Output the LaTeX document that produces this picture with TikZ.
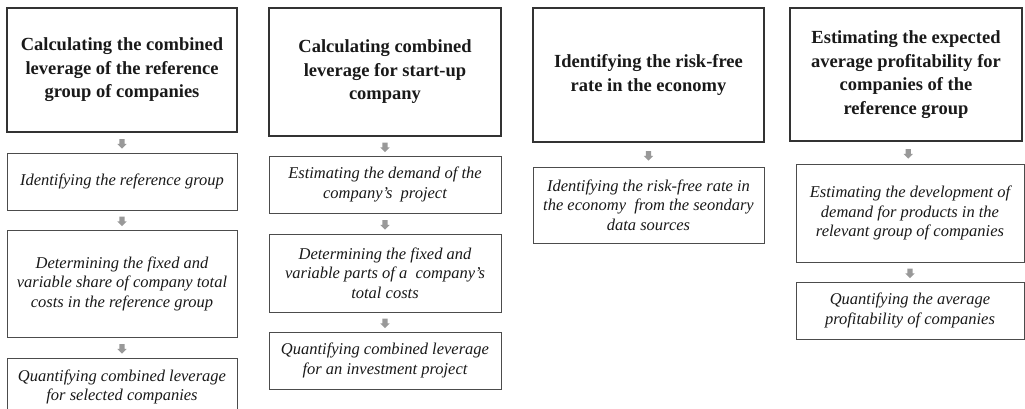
\documentclass[tikz,border=0pt]{standalone}
\usepackage{fontspec}
\setmainfont{Liberation Serif}
\usetikzlibrary{shapes.arrows}

\begin{document}
\begin{tikzpicture}[x=1pt,y=-1pt]
		\tikzstyle{head}=[rectangle,align=center,draw=black!80,line width=1.3pt,inner sep=0,text=black!90,font=\fontsize{18.5}{23.5}\selectfont\bfseries]
		\tikzstyle{task}=[rectangle,align=center,draw=black!70,line width=1pt,inner sep=0,text=black!90,font=\fontsize{16.5}{19.5}\selectfont\itshape]
		\tikzstyle{blk}=[single arrow,shape border rotate=270,fill=black!40,inner sep=2.5pt,minimum height=9.5pt,single arrow head extend=2pt,single arrow head indent=0pt]
		
		\useasboundingbox (0,0) rectangle (1025,409);
		
		\node [head,minimum width=230,minimum height=124] (h1) at (122, 70)    {Calculating the combined\\leverage of the reference\\group of companies};
		\node [task,minimum width=230,minimum height=57]  (b12) at (122, 181.5) {Identifying the reference group};
		\node [task,minimum width=230,minimum height=107] (b13) at (122, 283.5) {Determining the fixed and\\variable share of company total\\costs in the reference group};
		\node [task,minimum width=230,minimum height=58]  (b14) at (122, 387)   {Quantifying combined leverage\\for selected companies};
		
		\node [head,minimum width=232,minimum height=128] (h2) at (385, 72)    {Calculating combined\\leverage for start-up\\company};
		\node [task,minimum width=232,minimum height=57]  (b22) at (385, 184.5) {Estimating the demand of the\\company's\ \ project};
		\node [task,minimum width=232,minimum height=78]  (b23) at (385, 273)   {Determining the fixed and\\variable parts of a\ \ company's\\total costs};
		\node [task,minimum width=232,minimum height=57]  (b24) at (385, 360.5) {Quantifying combined leverage\\for an investment project};
		
		\node [head,minimum width=231,minimum height=134] (h3) at (648.5, 75) {Identifying the risk-free\\rate in the economy};
		\node [task,minimum width=231,minimum height=76]  (b32) at (648.5, 205) {Identifying the risk-free rate in\\the economy\ \ from the seondary\\data sources};
		
		\node [head,minimum width=232,minimum height=133] (h4) at (906, 74.5) {Estimating the expected\\average profitability for\\companies of the\\reference group};
		\node [task,minimum width=228,minimum height=98]  (b42) at (910, 213)   {Estimating the development of\\demand for products in the\\relevant group of companies};
		\node [task,minimum width=228,minimum height=57]  (b43) at (910, 310.5) {Quantifying the average\\profitability of companies};
		
		\path (h1)  -- node[blk]{} (b12);
		\path (b12) -- node[blk]{} (b13);
		\path (b13) -- node[blk]{} (b14);
		\path (h2)  -- node[blk]{} (b22);
		\path (b22) -- node[blk]{} (b23);
		\path (b23) -- node[blk]{} (b24);
		\path (h3)  -- node[blk]{} (b32);
		\path (h4)  -- node[blk]{} (b42);
		\path (b42) -- node[blk]{} (b43);
	\end{tikzpicture}
\end{document}
